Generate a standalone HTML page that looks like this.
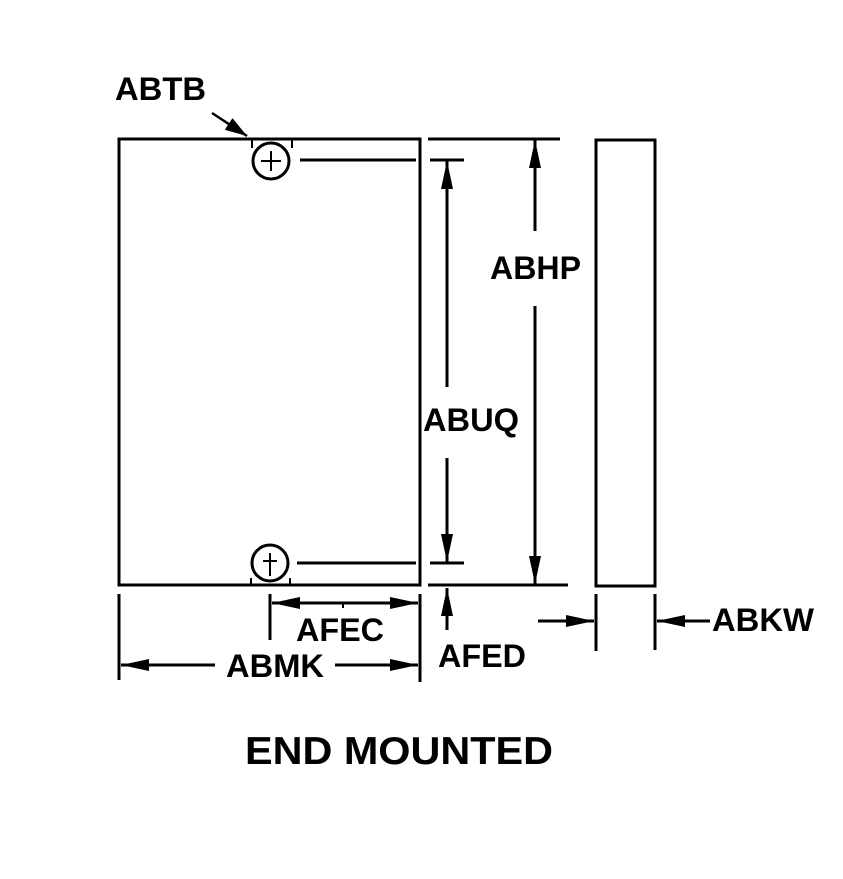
<!DOCTYPE html>
<html><head><style>html,body{margin:0;padding:0;background:#fff}svg{display:block}</style></head>
<body>
<svg width="843" height="879" viewBox="0 0 843 879" xmlns="http://www.w3.org/2000/svg">
<defs>
<marker id="a" viewBox="0 0 28 12" refX="28" refY="6" markerWidth="28" markerHeight="12" markerUnits="userSpaceOnUse" orient="auto"><path d="M0,0 L28,6 L0,12z" fill="#000"/></marker>
<marker id="b" viewBox="0 0 22 14" refX="22" refY="7" markerWidth="22" markerHeight="14" markerUnits="userSpaceOnUse" orient="auto"><path d="M0,0 L22,7 L0,14z" fill="#000"/></marker>
</defs>
<g stroke="#000" stroke-width="3" fill="none">
<rect x="119" y="139" width="301" height="446"/>
<rect x="596" y="140" width="59" height="446"/>
<circle cx="271" cy="161" r="18"/>
<circle cx="270" cy="563" r="18"/>
<line x1="300" y1="160" x2="416" y2="160"/>
<line x1="297" y1="563" x2="416" y2="563"/>
<line x1="428" y1="139" x2="560" y2="139"/>
<line x1="430" y1="160" x2="464" y2="160"/>
<line x1="430" y1="563" x2="464" y2="563"/>
<line x1="428" y1="585" x2="568" y2="585"/>
<line x1="119" y1="594" x2="119" y2="680"/>
<line x1="420" y1="594" x2="420" y2="682"/>
<line x1="270" y1="594" x2="270" y2="640"/>
<line x1="596" y1="594" x2="596" y2="651"/>
<line x1="655" y1="594" x2="655" y2="650"/>
</g>
<g stroke="#000" stroke-width="2">
<line x1="252" y1="139" x2="252" y2="148"/><line x1="292" y1="139" x2="292" y2="148"/>
<line x1="251" y1="578" x2="251" y2="585"/><line x1="290" y1="578" x2="290" y2="585"/>
<line x1="271" y1="151" x2="271" y2="171"/><line x1="261" y1="161" x2="281" y2="161"/>
<line x1="270" y1="553" x2="270" y2="576"/><line x1="263" y1="561" x2="277" y2="561"/>
<line x1="343" y1="603" x2="343" y2="608"/>
</g>
<g stroke="#000" stroke-width="3" fill="none">
<line x1="212" y1="113" x2="247" y2="136" marker-end="url(#b)" stroke-width="2.5"/>
<line x1="447" y1="387" x2="447" y2="161" marker-end="url(#a)"/>
<line x1="447" y1="458" x2="447" y2="562" marker-end="url(#a)"/>
<line x1="535" y1="231" x2="535" y2="140" marker-end="url(#a)"/>
<line x1="535" y1="306" x2="535" y2="584" marker-end="url(#a)"/>
<line x1="343" y1="603" x2="272" y2="603" marker-end="url(#a)"/>
<line x1="343" y1="603" x2="418" y2="603" marker-end="url(#a)"/>
<line x1="215" y1="665" x2="121" y2="665" marker-end="url(#a)"/>
<line x1="335" y1="665" x2="418" y2="665" marker-end="url(#a)"/>
<line x1="447" y1="630" x2="447" y2="588" marker-end="url(#a)"/>
<line x1="538" y1="621" x2="594" y2="621" marker-end="url(#a)"/>
<line x1="710" y1="621" x2="657" y2="621" marker-end="url(#a)"/>
</g>
<g font-family="Liberation Sans, sans-serif" font-weight="bold" font-size="32" fill="#000">
<text x="115" y="100" textLength="91" lengthAdjust="spacingAndGlyphs">ABTB</text>
<text x="490" y="279" textLength="91" lengthAdjust="spacingAndGlyphs">ABHP</text>
<text x="423" y="431" textLength="96" lengthAdjust="spacingAndGlyphs">ABUQ</text>
<text x="296" y="641" textLength="88" lengthAdjust="spacingAndGlyphs">AFEC</text>
<text x="226" y="677" textLength="98" lengthAdjust="spacingAndGlyphs">ABMK</text>
<text x="438" y="667" textLength="88" lengthAdjust="spacingAndGlyphs">AFED</text>
<text x="712" y="631" textLength="102" lengthAdjust="spacingAndGlyphs">ABKW</text>
<text x="245" y="764" font-size="39" textLength="308" lengthAdjust="spacingAndGlyphs">END MOUNTED</text>
</g>
</svg>
</body></html>
